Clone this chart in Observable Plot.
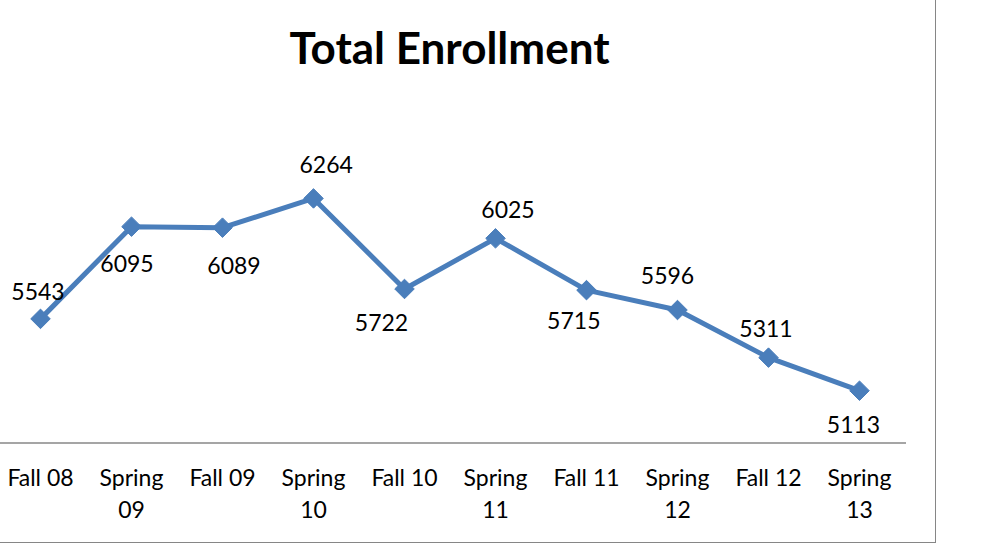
<!DOCTYPE html>
<html>
<head>
<meta charset="utf-8">
<script src="https://cdn.jsdelivr.net/npm/d3@7"></script>
<script src="https://cdn.jsdelivr.net/npm/@observablehq/plot@0.6"></script>
<style>
  html, body { margin: 0; padding: 0; background: #fff; }
  #wrap { position: relative; width: 986px; height: 558px; overflow: hidden; background: #fff; }
  #border { position: absolute; left: -4px; top: -4px; width: 939.5px; height: 546.5px; box-sizing: border-box;
            border-right: 1.5px solid #868686; border-bottom: 1.5px solid #868686; pointer-events: none; }
  #title { position: absolute; left: 0; width: 899px; top: 24.5px; text-align: center;
           font-family: Lato, "Open Sans", sans-serif; font-weight: bold; font-size: 44px; line-height: 44px; color: #000; }
  #chart { position: absolute; left: 0; top: 0; }
</style>
</head>
<body>
<div id="wrap">
  <div id="chart"></div>
  <div id="title">Total Enrollment</div>
  <div id="border"></div>
</div>
<script>
const terms = ["Fall 08","Spring 09","Fall 09","Spring 10","Fall 10","Spring 11","Fall 11","Spring 12","Fall 12","Spring 13"];
const tickLabels = ["Fall 08","Spring\n09","Fall 09","Spring\n10","Fall 10","Spring\n11","Fall 11","Spring\n12","Fall 12","Spring\n13"];
const enrollment = [5543,6095,6089,6264,5722,6025,5715,5596,5311,5113];
const labelOffsets = [[-2.5,-26],[-4.5,38],[11.5,39],[12.7,-32.4],[-23,34.3],[12.5,-27.5],[-12.7,31.7],[-10,-33],[-2.5,-28.3],[-6,35]];

const rows = terms.map((t, i) => ({term: t, value: enrollment[i]}));
const labelOf = new Map(terms.map((t, i) => [t, tickLabels[i]]));
const blue = "#4a7ebb";

const chart = Plot.plot({
  width: 986,
  height: 558,
  marginLeft: 0,
  marginRight: 80,
  marginTop: 175,
  marginBottom: 115.5,
  style: {fontFamily: "Lato, 'Open Sans', sans-serif", fontSize: "23px", color: "#000", background: "transparent"},
  x: {type: "point", domain: terms, range: [39, 860], padding: 0, label: null},
  y: {domain: [4800, 6400], range: [442.5, 175.2], axis: null},
  marks: [
    Plot.ruleY([4800], {stroke: "#878787", strokeWidth: 1.6}),
    Plot.axisX({anchor: "bottom", tickSize: 0, tickPadding: 19.5, fontSize: 23, lineHeight: 1.41, label: null,
                tickFormat: d => labelOf.get(d), fill: "#000"}),
    Plot.line(rows, {x: "term", y: "value", stroke: blue, strokeWidth: 5, strokeLinejoin: "round"}),
    Plot.dot(rows, {x: "term", y: "value", symbol: "diamond2", r: 8.8, fill: blue, stroke: blue, strokeWidth: 1}),
    ...rows.map((d, i) => Plot.text([d], {x: "term", y: "value", text: r => String(r.value),
        dx: labelOffsets[i][0], dy: labelOffsets[i][1], fontSize: 23, fill: "#000"}))
  ]
});
document.getElementById("chart").appendChild(chart);
</script>
</body>
</html>
